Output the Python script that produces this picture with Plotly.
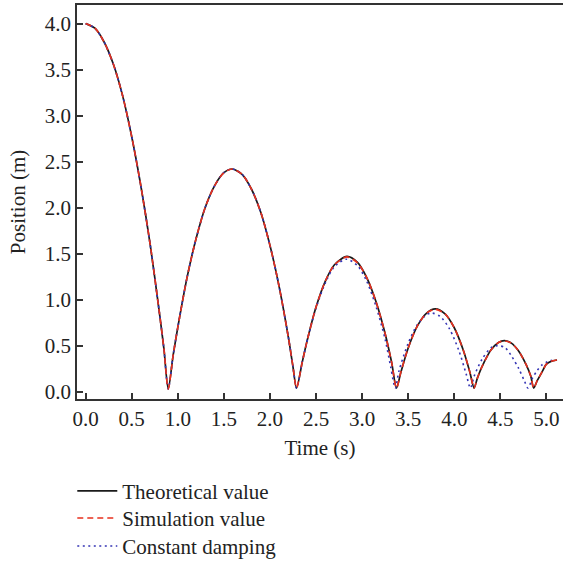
import plotly.graph_objects as go

# Theoretical value
t_theo = [0.0, 0.1, 0.2, 0.3, 0.4, 0.5, 0.6, 0.7, 0.8, 0.85, 0.896,
          0.95, 1.0, 1.1, 1.2, 1.3, 1.4, 1.5, 1.59, 1.7, 1.8, 1.9, 2.0, 2.1, 2.2, 2.25, 2.288,
          2.35, 2.4, 2.5, 2.6, 2.7, 2.835, 2.95, 3.05, 3.15, 3.25, 3.32, 3.373,
          3.42, 3.5, 3.6, 3.7, 3.795, 3.9, 4.0, 4.1, 4.17, 4.215,
          4.25, 4.3, 4.4, 4.48, 4.545, 4.62, 4.7, 4.78, 4.83, 4.862,
          4.9, 4.95, 5.0, 5.05, 5.115]
y_theo = [4.0, 3.95, 3.80, 3.56, 3.22, 2.77, 2.23, 1.60, 0.86, 0.46, 0.03,
          0.40, 0.70, 1.24, 1.67, 2.01, 2.24, 2.38, 2.42, 2.36, 2.20, 1.95, 1.59, 1.14, 0.59, 0.27, 0.04,
          0.32, 0.54, 0.92, 1.20, 1.38, 1.47, 1.405, 1.24, 0.98, 0.63, 0.32, 0.04,
          0.21, 0.475, 0.715, 0.855, 0.90, 0.845, 0.695, 0.446, 0.21, 0.04,
          0.145, 0.27, 0.455, 0.535, 0.555, 0.528, 0.44, 0.294, 0.17, 0.04,
          0.12, 0.21, 0.30, 0.33, 0.345]

# Simulation value (overlaps the theoretical curve)
t_sim = [0.0, 0.1, 0.2, 0.3, 0.4, 0.5, 0.6, 0.7, 0.8, 0.85, 0.896,
         0.95, 1.0, 1.1, 1.2, 1.3, 1.4, 1.5, 1.59, 1.7, 1.8, 1.9, 2.0, 2.1, 2.2, 2.25, 2.288,
         2.35, 2.4, 2.5, 2.6, 2.7, 2.835, 2.95, 3.05, 3.15, 3.25, 3.32, 3.373,
         3.42, 3.5, 3.6, 3.7, 3.795, 3.9, 4.0, 4.1, 4.17, 4.215,
         4.25, 4.3, 4.4, 4.48, 4.545, 4.62, 4.7, 4.78, 4.83, 4.862,
         4.9, 4.95, 5.0, 5.05, 5.115]
y_sim = [4.0, 3.95, 3.80, 3.56, 3.22, 2.77, 2.23, 1.60, 0.86, 0.46, 0.03,
         0.40, 0.70, 1.24, 1.67, 2.01, 2.24, 2.38, 2.42, 2.36, 2.20, 1.95, 1.59, 1.14, 0.59, 0.27, 0.04,
         0.32, 0.54, 0.92, 1.20, 1.38, 1.465, 1.40, 1.24, 0.98, 0.63, 0.32, 0.04,
         0.21, 0.475, 0.715, 0.855, 0.895, 0.845, 0.695, 0.446, 0.21, 0.04,
         0.145, 0.27, 0.455, 0.535, 0.552, 0.528, 0.44, 0.294, 0.17, 0.04,
         0.12, 0.21, 0.30, 0.33, 0.345]

# Constant damping
t_cd = [0.0, 0.1, 0.2, 0.3, 0.4, 0.5, 0.6, 0.7, 0.8, 0.85, 0.896,
        0.95, 1.0, 1.1, 1.2, 1.3, 1.4, 1.5, 1.59, 1.7, 1.8, 1.9, 2.0, 2.1, 2.2, 2.25, 2.288,
        2.35, 2.4, 2.5, 2.6, 2.7, 2.83, 2.95, 3.05, 3.15, 3.25, 3.31, 3.36,
        3.40, 3.5, 3.6, 3.7, 3.76, 3.85, 3.95, 4.05, 4.13, 4.175,
        4.22, 4.3, 4.4, 4.47, 4.55, 4.62, 4.7, 4.76, 4.80,
        4.85, 4.9, 4.95, 5.0, 5.05, 5.09]
y_cd = [4.0, 3.95, 3.80, 3.56, 3.22, 2.77, 2.23, 1.60, 0.86, 0.46, 0.03,
        0.40, 0.70, 1.24, 1.67, 2.01, 2.24, 2.38, 2.42, 2.36, 2.20, 1.95, 1.59, 1.14, 0.59, 0.27, 0.04,
        0.32, 0.54, 0.91, 1.18, 1.36, 1.44, 1.37, 1.20, 0.93, 0.57, 0.27, 0.04,
        0.226, 0.527, 0.73, 0.838, 0.855, 0.816, 0.68, 0.447, 0.19, 0.04,
        0.18, 0.35, 0.48, 0.50, 0.48, 0.39, 0.25, 0.12, 0.04,
        0.15, 0.23, 0.29, 0.32, 0.34, 0.345]

x_ticks = [0.0, 0.5, 1.0, 1.5, 2.0, 2.5, 3.0, 3.5, 4.0, 4.5, 5.0]
y_ticks = [0.0, 0.5, 1.0, 1.5, 2.0, 2.5, 3.0, 3.5, 4.0]

FONT = "Liberation Serif"
AXC = "#333333"
TXT = "#222222"
FS = 21

fig = go.Figure()
fig.add_trace(go.Scatter(x=t_theo, y=y_theo, mode="lines", name="Theoretical value",
                         line=dict(color="#1a1a1a", width=1.7, shape="spline", smoothing=0.8),
                         legend="legend"))
fig.add_trace(go.Scatter(x=t_cd, y=y_cd, mode="lines", name="Constant damping",
                         line=dict(color="#3535b5", width=1.6, dash="2px,3.5px", shape="spline", smoothing=0.8),
                         legend="legend3"))
fig.add_trace(go.Scatter(x=t_sim, y=y_sim, mode="lines", name="Simulation value",
                         line=dict(color="#e8301e", width=1.6, dash="6px,4px", shape="spline", smoothing=0.8),
                         legend="legend2"))

leg_common = dict(x=-0.0097, xref="paper", yanchor="top", xanchor="left",
                  bgcolor="rgba(0,0,0,0)", font=dict(family=FONT, size=FS, color=TXT),
                  itemwidth=40)

fig.update_layout(
    width=563, height=561,
    margin=dict(l=77, r=0, t=5, b=162, autoexpand=False),
    paper_bgcolor="white", plot_bgcolor="white",
    font=dict(family=FONT, size=FS, color=TXT),
    showlegend=True,
    legend=dict(y=-0.182, **leg_common),
    legend2=dict(y=-0.251, **leg_common),
    legend3=dict(y=-0.322, **leg_common),
)
fig.update_xaxes(range=[-0.094, 5.18], tickvals=x_ticks, ticktext=[f"{v:.1f}" for v in x_ticks],
                 ticks="inside", ticklen=6, tickwidth=1.5, tickcolor=AXC,
                 showline=True, linecolor=AXC, linewidth=1.5, mirror=True,
                 showgrid=False, zeroline=False, automargin=False,
                 tickfont=dict(family=FONT, size=FS, color=TXT),
                 title=dict(text="Time (s)", font=dict(family=FONT, size=FS), standoff=10))
fig.update_yaxes(range=[-0.079, 4.202], tickvals=y_ticks, ticktext=[f"{v:.1f}" for v in y_ticks],
                 ticks="inside", ticklen=6, tickwidth=1.5, tickcolor=AXC,
                 showline=True, linecolor=AXC, linewidth=1.5, mirror=False,
                 showgrid=False, zeroline=False, automargin=False,
                 tickfont=dict(family=FONT, size=FS, color=TXT),
                 title=dict(text="Position (m)", font=dict(family=FONT, size=FS), standoff=13))

fig.write_html("out.html", config={"displayModeBar": False},
               post_script="document.body.style.margin='0';document.body.style.padding='0';")
